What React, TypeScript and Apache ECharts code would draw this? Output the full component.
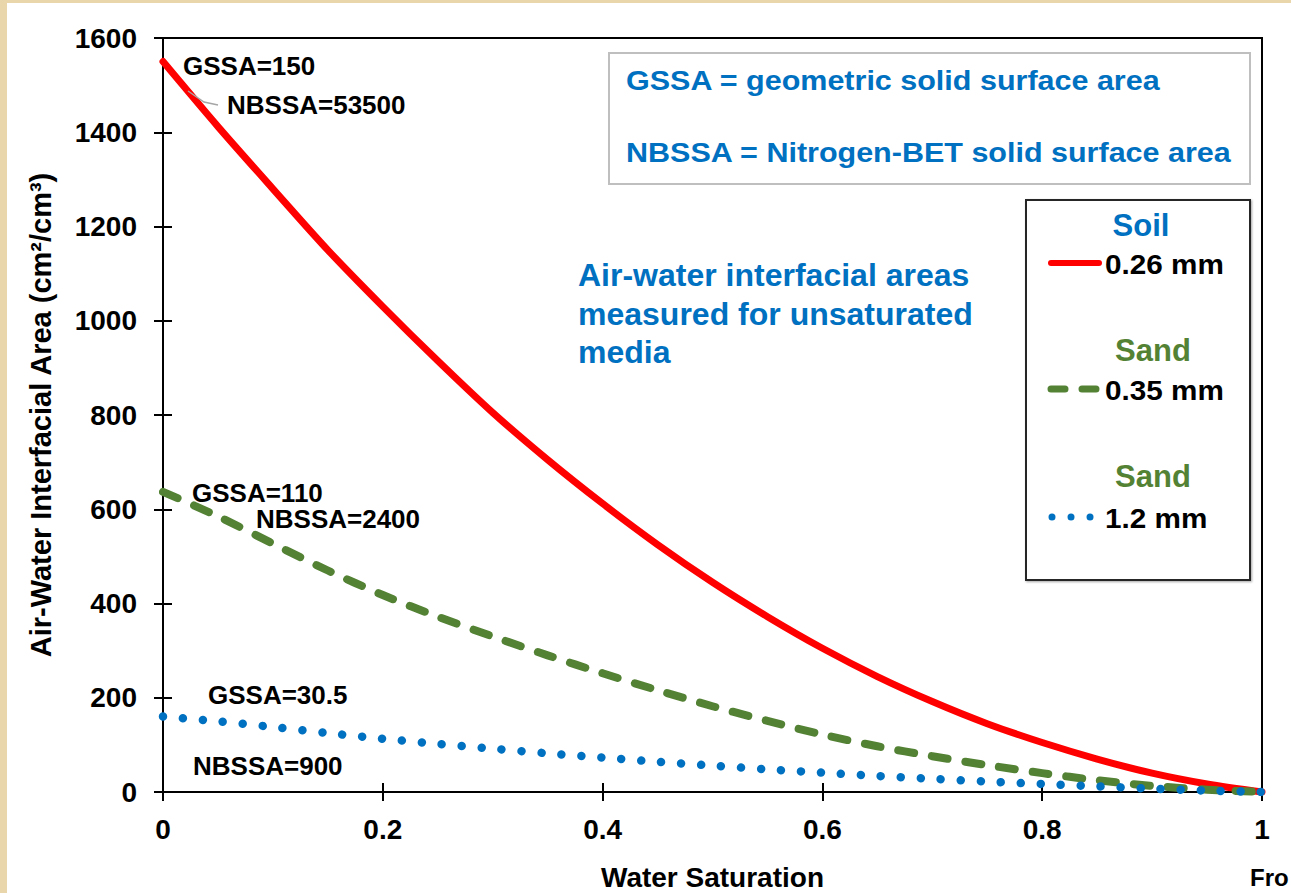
import React, { useEffect, useRef } from "react";
import * as echarts from "echarts";

// Data
const saturation = [0, 0.05, 0.1, 0.15, 0.2, 0.25, 0.3, 0.35, 0.4, 0.45, 0.5, 0.55, 0.6, 0.65, 0.7, 0.75, 0.8, 0.85, 0.9, 0.95, 1];
const soil026 = [1550, 1412, 1280, 1150, 1030, 915, 805, 705, 612, 525, 445, 372, 305, 245, 192, 145, 105, 70, 40, 17, 0];
const sand035 = [637, 585, 527, 470, 418, 372, 330, 290, 252, 216, 182, 151, 122, 97, 76, 57, 40, 25, 13, 5, 0];
const sand12 = [160, 150, 138, 125, 113, 102, 92, 82, 73, 64, 56, 48, 41, 34, 28, 22, 17, 12, 7, 3, 0];

const seriesNames = ["0.26 mm", "0.35 mm", "1.2 mm"];
const mediaNames = ["Soil", "Sand", "Sand"];

const FONT = '"Liberation Sans", Arial, Helvetica, sans-serif';
const BLUE = "#0070C0";
const GREEN = "#548235";
const RED = "#FF0000";

function pairs(ys: number[]) {
  return saturation.map((x, i) => [x, ys[i]]);
}

function txt(text: string, x: number, y: number, size: number, color: string, align: string = "left", extra: any = {}) {
  return {
    type: "text",
    x,
    y,
    z: 10,
    ...extra,
    style: {
      text,
      fill: color,
      font: `bold ${size}px ${FONT}`,
      textAlign: align,
      textVerticalAlign: "middle",
      align,
      verticalAlign: "middle",
    },
  };
}

export default function App() {
  const ref = useRef<HTMLDivElement>(null);

  useEffect(() => {
    if (!ref.current) return;
    const chart = echarts.init(ref.current, undefined, { renderer: "svg" });

    const option: any = {
      animation: false,
      backgroundColor: "transparent",
      grid: {
        left: 163,
        top: 38,
        width: 1099,
        height: 754,
        show: true,
        borderColor: "#000",
        borderWidth: 2,
        backgroundColor: "transparent",
        containLabel: false,
        outerBoundsMode: "none",
      },
      xAxis: [
        {
          type: "value",
          min: 0,
          max: 1,
          interval: 0.2,
          name: "Water Saturation",
          nameLocation: "middle",
          nameGap: 71,
          nameTextStyle: { fontFamily: FONT, fontWeight: "bold", fontSize: 28, color: "#000" },
          axisLine: { show: true, lineStyle: { color: "#000", width: 2 } },
          axisTick: { show: true, inside: false, length: 9, lineStyle: { color: "#000", width: 2 } },
          axisLabel: { fontFamily: FONT, fontWeight: "bold", fontSize: 28, color: "#000", margin: 23 },
          splitLine: { show: false },
        },
        {
          type: "value",
          min: 0,
          max: 1,
          interval: 0.2,
          position: "bottom",
          axisLine: { show: false },
          axisTick: { show: true, inside: true, length: 9, lineStyle: { color: "#000", width: 2 } },
          axisLabel: { show: false },
          splitLine: { show: false },
        },
      ],
      yAxis: [
        {
          type: "value",
          min: 0,
          max: 1600,
          interval: 200,
          name: "Air-Water Interfacial Area (cm²/cm³)",
          nameLocation: "middle",
          nameGap: 108,
          nameTextStyle: { fontFamily: FONT, fontWeight: "bold", fontSize: 29, color: "#000" },
          axisLine: { show: true, lineStyle: { color: "#000", width: 2 } },
          axisTick: { show: true, inside: false, length: 9, lineStyle: { color: "#000", width: 2 } },
          axisLabel: {
            fontFamily: FONT,
            fontWeight: "bold",
            fontSize: 28,
            color: "#000",
            margin: 26,
            formatter: (v: number) => String(v),
          },
          splitLine: { show: false },
        },
        {
          type: "value",
          min: 0,
          max: 1600,
          interval: 200,
          position: "left",
          axisLine: { show: false },
          axisTick: { show: true, inside: true, length: 9, lineStyle: { color: "#000", width: 2 } },
          axisLabel: { show: false },
          splitLine: { show: false },
        },
      ],
      series: [
        {
          name: seriesNames[0],
          type: "line",
          data: pairs(soil026),
          smooth: 0.3,
          showSymbol: false,
          symbol: "none",
          lineStyle: { color: RED, width: 7, cap: "round", join: "round" },
          z: 3,
        },
        {
          name: seriesNames[1],
          type: "line",
          data: pairs(sand035),
          smooth: 0.3,
          showSymbol: false,
          symbol: "none",
          lineStyle: { color: GREEN, width: 8, type: [16, 18], cap: "round", join: "round" },
          z: 4,
        },
        {
          name: seriesNames[2],
          type: "line",
          data: pairs(sand12),
          smooth: 0.3,
          showSymbol: false,
          symbol: "none",
          lineStyle: { color: BLUE, width: 8.5, type: [0.01, 20], cap: "round", join: "round" },
          z: 5,
        },
      ],
      graphic: [
        // annotations near curve starts
        txt("GSSA=150", 183, 66, 26, "#000"),
        txt("NBSSA=53500", 227, 105, 26, "#000"),
        {
          type: "polyline",
          z: 10,
          shape: { points: [[188, 91], [204, 102], [218, 105]] },
          style: { stroke: "#A6A6A6", lineWidth: 1.5, fill: null },
        },
        txt("GSSA=110", 192, 493, 26, "#000"),
        txt("NBSSA=2400", 256, 519, 26, "#000"),
        txt("GSSA=30.5", 208, 695, 26, "#000"),
        txt("NBSSA=900", 193, 766, 26, "#000"),

        // definitions box
        {
          type: "rect",
          z: 9,
          shape: { x: 609, y: 53, width: 641, height: 131 },
          style: { fill: "#fff", stroke: "#BFBFBF", lineWidth: 2 },
        },
        txt("GSSA = geometric solid surface area", 626, 80, 28, BLUE, "left", { scaleX: 1.09 }),
        txt("NBSSA = Nitrogen-BET solid surface area", 626, 152, 28, BLUE, "left", { scaleX: 1.09 }),

        // description
        txt("Air-water interfacial areas", 578, 275, 32, BLUE),
        txt("measured for unsaturated", 578, 314, 32, BLUE),
        txt("media", 578, 352, 32, BLUE),

        // legend
        {
          type: "rect",
          z: 8,
          shape: { x: 1026, y: 200, width: 224, height: 380 },
          style: { fill: "#fff", stroke: "#262626", lineWidth: 2, shadowColor: "rgba(0,0,0,0.35)", shadowBlur: 2, shadowOffsetX: 1, shadowOffsetY: 1 },
        },
        txt(mediaNames[0], 1141, 225, 31, BLUE, "center"),
        {
          type: "line",
          z: 10,
          shape: { x1: 1051, y1: 263, x2: 1099, y2: 263 },
          style: { stroke: RED, lineWidth: 6, lineCap: "round" },
        },
        txt(seriesNames[0], 1105, 264, 27, "#000", "left", { scaleX: 1.1 }),
        txt(mediaNames[1], 1153, 350, 31, GREEN, "center"),
        {
          type: "line",
          z: 10,
          shape: { x1: 1051, y1: 389, x2: 1101, y2: 389 },
          style: { stroke: GREEN, lineWidth: 7, lineCap: "round", lineDash: [14, 17] },
        },
        txt(seriesNames[1], 1105, 390, 27, "#000", "left", { scaleX: 1.1 }),
        txt(mediaNames[2], 1153, 476, 31, GREEN, "center"),
        {
          type: "line",
          z: 10,
          shape: { x1: 1052, y1: 517, x2: 1092, y2: 517 },
          style: { stroke: BLUE, lineWidth: 7, lineCap: "round", lineDash: [0.01, 19] },
        },
        txt(seriesNames[2], 1105, 518, 27, "#000", "left", { scaleX: 1.1 }),

        // cut-off source text
        txt("Fro", 1250, 877, 24, "#000"),
      ],
    };

    chart.setOption(option);
    return () => chart.dispose();
  }, []);

  return (
    <div style={{ position: "absolute", left: 0, top: 0, width: 1291, height: 893, background: "#E9D6AA", overflow: "hidden" }}>
      <div style={{ position: "absolute", left: 7, top: 3, width: 1284, height: 890, background: "#FFFFFF" }} />
      <div ref={ref} style={{ position: "absolute", left: 0, top: 0, width: 1291, height: 893 }} />
    </div>
  );
}
